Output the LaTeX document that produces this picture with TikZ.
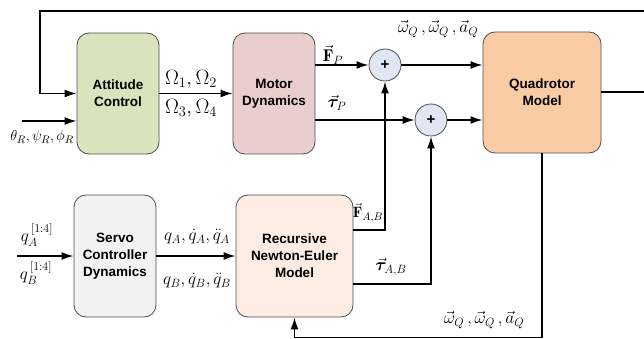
\documentclass[tikz,border=0pt]{standalone}
\usepackage{amsmath,amssymb,bm}
\usepackage{fontspec}
\setsansfont{Liberation Sans}
\usepackage{tikz}
\usetikzlibrary{arrows.meta,positioning,calc}
\definecolor{attGreen}{RGB}{215,228,188}
\definecolor{motPink}{RGB}{234,206,206}
\definecolor{quadOrange}{RGB}{250,204,166}
\definecolor{servoGray}{RGB}{242,242,242}
\definecolor{rneCream}{RGB}{253,236,226}
\definecolor{sumBlue}{RGB}{224,231,242}
\definecolor{npgray}{RGB}{78,78,78}

\begin{document}
\begin{tikzpicture}[x=1pt,y=-1pt,
  blk/.style={draw=npgray, line width=0.8pt, rounded corners=12pt, minimum width=82pt, minimum height=121pt,
    align=center, inner sep=0pt, font=\sffamily\bfseries\fontsize{13.5}{17}\selectfont},
  sumnode/.style={circle, draw=npgray, line width=0.8pt, fill=sumBlue, minimum size=32pt, inner sep=0pt,
    font=\sffamily\bfseries\fontsize{15}{15}\selectfont},
  sig/.style={line width=1.7pt, -{Latex[length=12pt,width=8pt]}},
  wire/.style={line width=1.7pt},
  lbl/.style={inner sep=0pt, font=\fontsize{17}{17}\selectfont},
  qlbl/.style={inner sep=0pt, font=\fontsize{18.5}{18.5}\selectfont},
  blbl/.style={inner sep=0pt, font=\fontsize{20}{20}\selectfont},
  slbl/.style={inner sep=0pt, font=\fontsize{15}{15}\selectfont}]
\useasboundingbox (0,0) rectangle (644,339);

\node[blk, fill=attGreen] (att) at (118,93.5) {Attitude\\Control};
\node[blk, fill=motPink] (mot) at (274,93.5) {Motor\\Dynamics};
\node[blk, fill=quadOrange, minimum width=118pt] (quad) at (542,92.5) {Quadrotor\\Model};
\node[blk, fill=servoGray, minimum height=122pt] (servo) at (115,256) {Servo\\Controller\\Dynamics};
\node[blk, fill=rneCream, minimum width=117pt, minimum height=122pt] (rne) at (294.5,256) {Recursive\\Newton-Euler\\Model};
\node[sumnode] (sF) at (385,65) {+};
\node[sumnode] (sT) at (431,120) {+};

\coordinate (fbTop) at (644,11);
\coordinate (fbLeft) at (40,11);
\coordinate (inAtt) at (22,121);
\coordinate (inServo) at (17,256);
\coordinate (outQ) at (644,92);
\coordinate (fbBot) at (0,337.5);
\coordinate (fRow) at (0,230);
\coordinate (tRow) at (0,284);

\draw[sig] (fbTop) -- (fbLeft) |- (att.west);
\draw[sig] (inAtt) -- (inAtt -| att.west);
\draw[sig] (att.east) -- (mot.west);
\draw[sig] (mot.east |- sF) -- (sF.west);
\draw[sig] (mot.east |- sT) -- (sT.west);
\draw[sig] (sF.east) -- (sF -| quad.west);
\draw[sig] (sT.east) -- (sT -| quad.west);
\draw[wire] (quad.east |- outQ) -- (outQ);
\draw[sig] (quad.south) |- (rne.south |- fbBot) -- (rne.south);
\draw[sig] (inServo) -- (servo.west);
\draw[sig] (servo.east) -- (rne.west);
\draw[sig] (rne.east |- fRow) -| (sF.south);
\draw[sig] (rne.east |- tRow) -| (sT.south);

\node[blbl] (omgUp) at (191,79) {$\Omega_1,\Omega_2$};
\node[blbl] (omgDn) at (191,108) {$\Omega_3,\Omega_4$};
\node[slbl] (refAng) at (42,137) {$\theta_R,\psi_R,\phi_R$};
\node[lbl] (fP) at (333,55) {$\vec{\mathbf{F}}_P$};
\node[lbl] (tP) at (337,103) {$\vec{\bm{\tau}}_P$};
\node[lbl] (stTop) at (438,29) {$\vec{\omega}_Q\,,\vec{\omega}_Q\,,\vec{a}_Q$};
\node[qlbl] (qAin) at (37,235) {$q_A^{\,[1:4]}$};
\node[qlbl] (qBin) at (36,273) {$q_B^{\,[1:4]}$};
\node[qlbl] (qA) at (197,237) {$q_A,\dot{q}_A,\ddot{q}_A$};
\node[qlbl] (qB) at (197,281) {$q_B,\dot{q}_B,\ddot{q}_B$};
\node[slbl] (fAB) at (368,213) {$\vec{\mathbf{F}}_{A,B}$};
\node[lbl] (tAB) at (391,267) {$\vec{\bm{\tau}}_{A,B}$};
\node[lbl] (stBot) at (484,320) {$\vec{\omega}_Q\,,\vec{\omega}_Q\,,\vec{a}_Q$};
\end{tikzpicture}
\end{document}
